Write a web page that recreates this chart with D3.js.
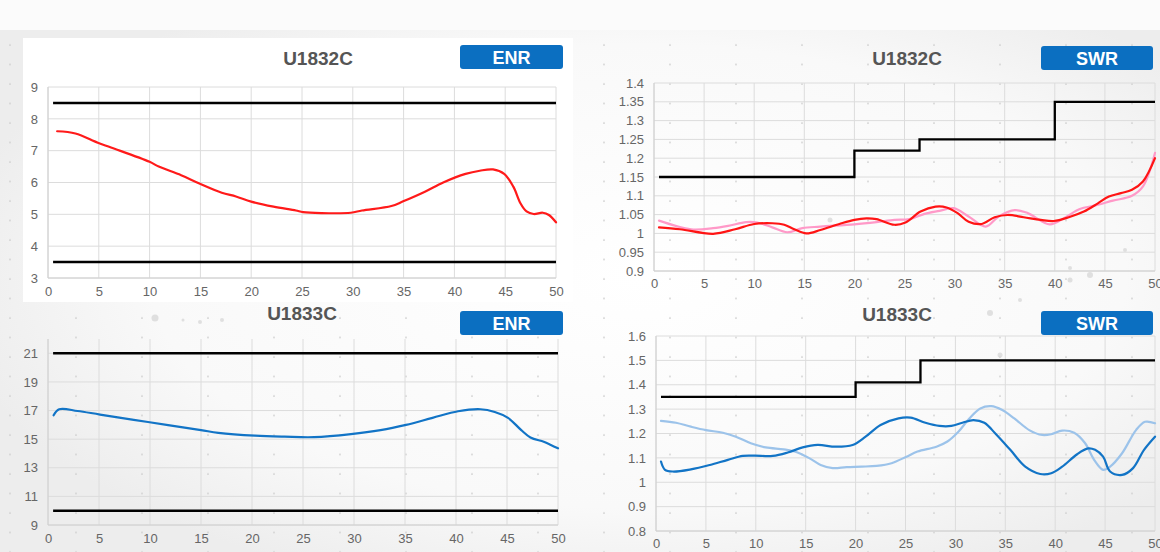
<!DOCTYPE html>
<html>
<head>
<meta charset="utf-8">
<script src="https://cdn.jsdelivr.net/npm/d3@7"></script>
<style>
  html, body { margin: 0; padding: 0; background: #f3f3f3; }
  svg { display: block; font-family: "Liberation Sans", Arial, sans-serif; }
</style>
</head>
<body>
<svg id="chart" width="1160" height="552"></svg>
<script>
// x axis ticks shared by all four charts
const xTicks = [0, 5, 10, 15, 20, 25, 30, 35, 40, 45, 50];

// U1832C ENR
const enr1X = [0.9, 2.7, 4.9, 6.2, 10, 10.9, 13.1, 14.9, 17.1, 18.5, 20, 22.2, 24.4, 25.1, 26.9, 29.8, 30.9, 33.8, 34.9, 37.1, 38.9, 41.1, 42.5, 43.8, 44.9, 45.8, 46.5, 47.1, 47.8, 48.7, 49.3, 50];
const enr1Y = [7.61, 7.54, 7.25, 7.1, 6.65, 6.5, 6.23, 5.97, 5.68, 5.56, 5.4, 5.24, 5.12, 5.07, 5.04, 5.05, 5.12, 5.26, 5.4, 5.71, 6.0, 6.27, 6.37, 6.41, 6.27, 5.87, 5.35, 5.09, 5.01, 5.05, 4.98, 4.75];
const enr1Limits = [8.5, 3.5];
const enr1Ticks = [3, 4, 5, 6, 7, 8, 9];

// U1832C SWR
const swr1RedX = [0.5, 2.6, 5.9, 8.1, 10, 11.8, 13, 14, 15.2, 16.6, 18.5, 20, 21.2, 22.2, 24, 25.1, 26.6, 28.1, 29.2, 30.3, 31.4, 32.7, 34, 35.3, 36.9, 38.6, 39.9, 41.4, 42.9, 44.3, 45.4, 46.6, 47.7, 48.8, 50];
const swr1RedY = [1.016, 1.011, 0.999, 1.011, 1.025, 1.027, 1.023, 1.011, 1.0, 1.009, 1.025, 1.036, 1.040, 1.038, 1.023, 1.029, 1.058, 1.071, 1.069, 1.054, 1.031, 1.025, 1.043, 1.049, 1.043, 1.036, 1.033, 1.043, 1.058, 1.080, 1.098, 1.107, 1.116, 1.138, 1.2];
const swr1PinkX = [0.5, 3.7, 5.9, 7.4, 9.2, 10.3, 11.8, 13.3, 14.8, 16.6, 20, 22.2, 24, 25.5, 27, 28.5, 29.9, 31.4, 33.1, 34.4, 36, 37.3, 39.5, 41, 42.5, 44, 45.8, 47.7, 48.8, 50];
const swr1PinkY = [1.034, 1.011, 1.014, 1.020, 1.030, 1.029, 1.016, 1.003, 1.014, 1.018, 1.024, 1.030, 1.036, 1.038, 1.052, 1.06, 1.067, 1.045, 1.018, 1.045, 1.062, 1.054, 1.024, 1.042, 1.065, 1.074, 1.087, 1.10, 1.125, 1.214];
const swr1StepX = [0.5, 20, 26.5, 40, 50];
const swr1StepY = [1.15, 1.22, 1.25, 1.35, 1.35];
const swr1Ticks = [0.9, 0.95, 1, 1.05, 1.1, 1.15, 1.2, 1.25, 1.3, 1.35, 1.4];

// U1833C ENR
const enr2X = [0.55, 1.1, 2.9, 5.1, 9.8, 15, 16.7, 20.3, 23.2, 26.1, 29.7, 32.6, 35.1, 37.7, 40.2, 42.4, 43.8, 45.1, 46.4, 47.3, 48.6, 49.3, 50];
const enr2Y = [16.67, 17.09, 16.97, 16.72, 16.2, 15.63, 15.44, 15.24, 15.17, 15.14, 15.35, 15.63, 16.0, 16.49, 16.95, 17.09, 16.9, 16.49, 15.63, 15.12, 14.82, 14.6, 14.36];
const enr2Limits = [21, 10];
const enr2Ticks = [9, 11, 13, 15, 17, 19, 21];

// U1833C SWR
const swr2DarkX = [0.5, 0.9, 1.7, 3.5, 5.4, 7.2, 8.7, 9.9, 11.7, 13.2, 14.7, 16.2, 18, 19.7, 21, 22.5, 24.3, 25.5, 27, 28.4, 29.6, 30.7, 31.8, 32.9, 34, 35.5, 37, 38.5, 39.6, 40.7, 42.2, 43.3, 44, 44.8, 45.5, 46.7, 47.8, 48.9, 50];
const swr2DarkY = [1.085, 1.051, 1.044, 1.053, 1.071, 1.092, 1.108, 1.109, 1.108, 1.122, 1.143, 1.153, 1.146, 1.153, 1.187, 1.235, 1.262, 1.265, 1.244, 1.231, 1.231, 1.244, 1.255, 1.244, 1.2, 1.133, 1.064, 1.034, 1.037, 1.064, 1.115, 1.139, 1.133, 1.105, 1.044, 1.030, 1.058, 1.133, 1.187];
const swr2LightX = [0.5, 2, 3.5, 5, 6.7, 8, 9.5, 11, 12.8, 13.9, 15.4, 16.5, 17.7, 19.1, 20.6, 22.1, 23.6, 25.1, 26.2, 28.1, 29.2, 30.3, 31.4, 32.5, 33.6, 34.7, 35.9, 37.4, 38.7, 39.6, 40.7, 41.9, 43, 43.9, 44.8, 45.5, 46.7, 48.1, 49, 50];
const swr2LightY = [1.252, 1.244, 1.228, 1.214, 1.203, 1.187, 1.16, 1.143, 1.135, 1.126, 1.098, 1.071, 1.058, 1.062, 1.064, 1.067, 1.078, 1.105, 1.126, 1.146, 1.167, 1.207, 1.262, 1.303, 1.312, 1.296, 1.262, 1.214, 1.194, 1.197, 1.212, 1.203, 1.16, 1.092, 1.051, 1.064, 1.119, 1.214, 1.248, 1.242];
const swr2StepX = [0.5, 20, 26.5, 50];
const swr2StepY = [1.35, 1.41, 1.5, 1.5];
const swr2Ticks = [0.8, 0.9, 1, 1.1, 1.2, 1.3, 1.4, 1.5, 1.6];

const svg = d3.select("#chart");
const W = 1160, H = 552;

// background: light gray with soft white glow and a faint dot grid
const defs = svg.append("defs");
const glow = defs.append("radialGradient").attr("id", "glow")
    .attr("cx", "55%").attr("cy", "50%").attr("r", "60%");
glow.append("stop").attr("offset", "0%").attr("stop-color", "#ffffff");
glow.append("stop").attr("offset", "70%").attr("stop-color", "#f9f9f9");
glow.append("stop").attr("offset", "100%").attr("stop-color", "#ededed");

const dots = defs.append("pattern").attr("id", "dots")
    .attr("patternUnits", "userSpaceOnUse")
    .attr("width", 66).attr("height", 19.5);
dots.append("circle").attr("cx", 10).attr("cy", 6).attr("r", 0.9).attr("fill", "#cfcfcf");

svg.append("rect").attr("width", W).attr("height", H).attr("fill", "url(#glow)");
svg.append("rect").attr("width", W).attr("height", 30).attr("fill", "#fbfbfb");
svg.append("rect").attr("y", 30).attr("width", W).attr("height", H - 30).attr("fill", "url(#dots)");

// a few faint bokeh circles
const bokeh = [[155, 318, 3.5], [200, 322, 2], [222, 320, 2], [183, 320, 1.5], [1000, 355, 2.5], [1070, 280, 2.5], [1090, 275, 3], [990, 313, 3], [1020, 300, 2], [830, 220, 2.5], [1070, 268, 2], [1125, 250, 2]];
svg.selectAll(".bokeh").data(bokeh).enter().append("circle")
    .attr("cx", d => d[0]).attr("cy", d => d[1]).attr("r", d => d[2])
    .attr("fill", "#d4d4d4").attr("opacity", 0.7);

// white card behind first chart
svg.append("rect").attr("x", 23).attr("y", 38).attr("width", 550).attr("height", 264).attr("fill", "#ffffff");

function drawPanel(cfg) {
    const g = svg.append("g");
    const x = d3.scaleLinear().domain([0, 50]).range([cfg.left, cfg.right]);
    const y = d3.scaleLinear().domain(cfg.yDomain).range([cfg.bottom, cfg.top]);

    // grid
    g.selectAll(".vg").data(xTicks).enter().append("line")
        .attr("x1", d => x(d)).attr("x2", d => x(d))
        .attr("y1", cfg.top).attr("y2", cfg.bottom)
        .attr("stroke", "#dcdcdc").attr("stroke-width", 1);
    g.selectAll(".hg").data(cfg.yTicks).enter().append("line")
        .attr("x1", cfg.left).attr("x2", cfg.right)
        .attr("y1", d => y(d)).attr("y2", d => y(d))
        .attr("stroke", "#dcdcdc").attr("stroke-width", 1);
    g.append("line").attr("x1", cfg.left).attr("x2", cfg.left)
        .attr("y1", cfg.top).attr("y2", cfg.bottom).attr("stroke", "#d0d0d0");
    g.append("line").attr("x1", cfg.left).attr("x2", cfg.right)
        .attr("y1", cfg.bottom).attr("y2", cfg.bottom).attr("stroke", "#d0d0d0");

    // axes labels
    const yAxis = d3.axisLeft(y).tickValues(cfg.yTicks).tickSize(0).tickPadding(10)
        .tickFormat(d => String(+d.toFixed(2)));
    const ya = g.append("g").attr("transform", `translate(${cfg.left},0)`).call(yAxis);
    const xAxis = d3.axisBottom(x).tickValues(xTicks).tickSize(0).tickPadding(cfg.xPad);
    const xa = g.append("g").attr("transform", `translate(0,${cfg.bottom})`).call(xAxis);
    [ya, xa].forEach(a => {
        a.select(".domain").remove();
        a.selectAll("text").attr("fill", "#666").style("font-size", "13px")
            .style("font-family", "'Liberation Sans', Arial, sans-serif");
    });

    // limit lines
    if (cfg.limits) {
        g.selectAll(".lim").data(cfg.limits).enter().append("line")
            .attr("x1", x(0.5)).attr("x2", x(50))
            .attr("y1", d => y(d)).attr("y2", d => y(d))
            .attr("stroke", "#000").attr("stroke-width", 2.5);
    }
    if (cfg.stepX) {
        const step = d3.line().x(d => x(d[0])).y(d => y(d[1])).curve(d3.curveStepAfter);
        g.append("path").datum(d3.zip(cfg.stepX, cfg.stepY))
            .attr("d", step).attr("fill", "none")
            .attr("stroke", "#000").attr("stroke-width", 2.3);
    }

    // data series
    const line = d3.line().x(d => x(d[0])).y(d => y(d[1])).curve(d3.curveCatmullRom.alpha(0.5));
    cfg.series.forEach(s => {
        g.append("path").datum(d3.zip(s.xs, s.ys))
            .attr("d", line).attr("fill", "none")
            .attr("stroke", s.color).attr("stroke-width", 2.2)
            .attr("stroke-linejoin", "round").attr("stroke-linecap", "round");
    });

    // title and tag button
    g.append("text").attr("x", cfg.titleX).attr("y", cfg.titleY)
        .attr("text-anchor", "middle").attr("dominant-baseline", "central")
        .attr("fill", "#555").style("font-size", "19px").style("font-weight", "bold")
        .text(cfg.title);
    g.append("rect").attr("x", cfg.btn[0]).attr("y", cfg.btn[1])
        .attr("width", cfg.btn[2]).attr("height", cfg.btn[3]).attr("rx", 3)
        .attr("fill", "#0b6fc1");
    g.append("text").attr("x", cfg.btn[0] + cfg.btn[2] / 2).attr("y", cfg.btn[1] + cfg.btn[3] / 2 + 1)
        .attr("text-anchor", "middle").attr("dominant-baseline", "central")
        .attr("fill", "#fff").style("font-size", "18px").style("font-weight", "bold")
        .text(cfg.tag);
}

drawPanel({
    left: 48, right: 556, top: 87, bottom: 278, yDomain: [3, 9], yTicks: enr1Ticks, xPad: 9,
    limits: enr1Limits,
    series: [{ xs: enr1X, ys: enr1Y, color: "#ff1a1a" }],
    title: "U1832C", titleX: 318, titleY: 58, tag: "ENR", btn: [460, 45, 103, 24]
});

drawPanel({
    left: 654, right: 1155, top: 83, bottom: 271, yDomain: [0.9, 1.4], yTicks: swr1Ticks, xPad: 8,
    stepX: swr1StepX, stepY: swr1StepY,
    series: [
        { xs: swr1PinkX, ys: swr1PinkY, color: "#ff99c8" },
        { xs: swr1RedX, ys: swr1RedY, color: "#ff1414" }
    ],
    title: "U1832C", titleX: 907, titleY: 58, tag: "SWR", btn: [1041, 46, 112, 24]
});

drawPanel({
    left: 48, right: 558, top: 339, bottom: 525, yDomain: [9, 22], yTicks: enr2Ticks, xPad: 9,
    limits: enr2Limits,
    series: [{ xs: enr2X, ys: enr2Y, color: "#1274c6" }],
    title: "U1833C", titleX: 302, titleY: 313, tag: "ENR", btn: [460, 311, 103, 24]
});

drawPanel({
    left: 656, right: 1155, top: 336, bottom: 531, yDomain: [0.8, 1.6], yTicks: swr2Ticks, xPad: 8,
    stepX: swr2StepX, stepY: swr2StepY,
    series: [
        { xs: swr2LightX, ys: swr2LightY, color: "#9cc3ea" },
        { xs: swr2DarkX, ys: swr2DarkY, color: "#1274c6" }
    ],
    title: "U1833C", titleX: 897, titleY: 314, tag: "SWR", btn: [1041, 311, 112, 24]
});
</script>
</body>
</html>
